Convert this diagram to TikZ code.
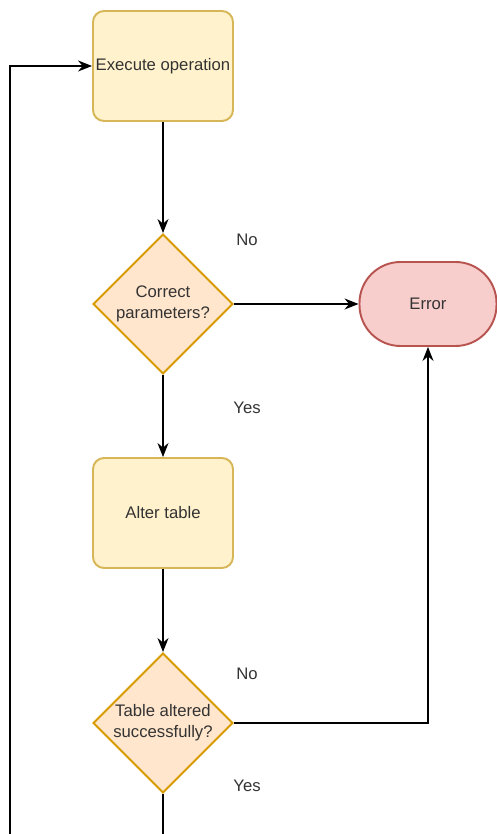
\documentclass[tikz,border=0pt]{standalone}
\usepackage{fontspec}
\setmainfont{Liberation Sans}
\usetikzlibrary{shapes.geometric, arrows.meta}

\definecolor{procfill}{HTML}{FFF2CC}
\definecolor{procline}{HTML}{D6B656}
\definecolor{decfill}{HTML}{FFE6CC}
\definecolor{decline}{HTML}{D79B00}
\definecolor{errfill}{HTML}{F8CECC}
\definecolor{errline}{HTML}{B85450}
\definecolor{txt}{HTML}{333333}

\begin{document}
\begin{tikzpicture}[
    font=\fontsize{9.5}{12}\selectfont,
    process/.style={draw=procline, fill=procfill, line width=1.1pt, rounded corners=0.22cm,
        minimum width=2.8cm, minimum height=2.2cm, inner xsep=1pt, text=txt},
    decision/.style={diamond, draw=decline, fill=decfill, line width=1.1pt,
        minimum width=2.8cm, minimum height=2.8cm, inner sep=0pt, align=center, text=txt},
    terminal/.style={draw=errline, fill=errfill, line width=1.1pt, rounded corners=0.82cm,
        minimum width=2.74cm, minimum height=1.68cm, text=txt},
    flow/.style={line width=0.7pt, -{Stealth[length=2.8mm, width=2.2mm]}},
    lbl/.style={text=txt}
]
\useasboundingbox (0,0) rectangle (9.94,16.68);
\clip (0,0) rectangle (9.94,16.68);

\node[process] (exec) at (3.26, 15.36) {Execute operation};
\node[decision] (check) at (3.26, 10.6) {Correct\\parameters?};
\node[terminal] (error) at (8.56, 10.6) {Error};
\node[process] (alter) at (3.26, 6.42) {Alter table};
\node[decision] (done) at (3.26, 2.22) {Table altered\\successfully?};

\draw[flow] (exec) -- (check);
\draw[flow] (check) -- (error);
\draw[flow] (check) -- (alter);
\draw[flow] (alter) -- (done);
\draw[flow] (done.east) -| (error.south);

% loop back (runs below the visible part)
\coordinate (loop) at (0.2, -0.5);
\draw[flow] (done.south) |- (loop) |- (exec.west);

\node[lbl] (no1) at (4.94, 11.88) {No};
\node[lbl] (yes1) at (4.94, 8.52) {Yes};
\node[lbl] (no2) at (4.94, 3.2) {No};
\node[lbl] (yes2) at (4.94, 0.96) {Yes};

\end{tikzpicture}
\end{document}
